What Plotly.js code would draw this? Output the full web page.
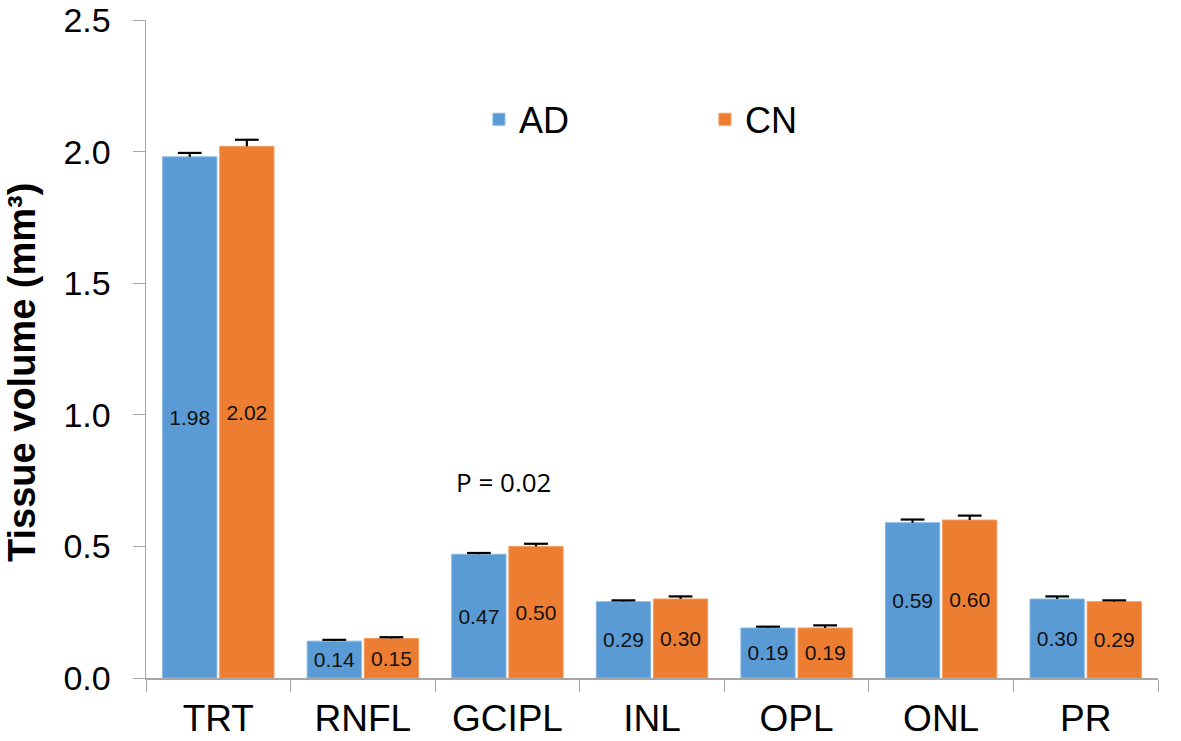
<!DOCTYPE html>
<html>
<head>
<meta charset="utf-8">
<script src="https://cdn.plot.ly/plotly-3.0.1.min.js"></script>
<style>html,body{margin:0;padding:0;background:#fff;}#chart{width:1181px;height:741px;}</style>
</head>
<body>
<div id="chart"></div>
<script>
var categories = ["TRT", "RNFL", "GCIPL", "INL", "OPL", "ONL", "PR"];
var adValues = [1.98, 0.14, 0.47, 0.29, 0.19, 0.59, 0.30];
var cnValues = [2.02, 0.15, 0.50, 0.30, 0.19, 0.60, 0.29];
var adErrors = [0.015, 0.005, 0.005, 0.005, 0.005, 0.012, 0.01];
var cnErrors = [0.025, 0.005, 0.01, 0.01, 0.01, 0.017, 0.005];
var adLabels = ["1.98", "0.14", "0.47", "0.29", "0.19", "0.59", "0.30"];
var cnLabels = ["2.02", "0.15", "0.50", "0.30", "0.19", "0.60", "0.29"];
var yTicks = [0, 0.5, 1, 1.5, 2, 2.5];
var yTitle = "Tissue volume (mm³)";

var labelFont = {family: "Liberation Sans, Arial, sans-serif", size: 21, color: "#111"};

function tops(vals, errs) { return vals.map(function (v, i) { return v + errs[i]; }); }

function errTrace(name, vals, errs) {
  return {
    type: "scatter", mode: "markers", name: name + " error", showlegend: false,
    x: categories, y: tops(vals, errs), hoverinfo: "skip",
    marker: {symbol: "line-ew", size: 17, color: "#000", line: {color: "#000", width: 2.2}},
    error_y: {type: "data", symmetric: false, array: errs.map(function () { return 0; }),
              arrayminus: errs, color: "#000", thickness: 2.2, width: 0}
  };
}

var traces = [
  {
    type: "bar", name: "AD", x: categories, y: adValues,
    marker: {color: "#5B9BD5", line: {color: "#86B6E2", width: 1}},
    text: adLabels, textposition: "inside", insidetextanchor: "middle",
    textfont: labelFont, hoverinfo: "x+y"
  },
  {
    type: "bar", name: "CN", x: categories, y: cnValues,
    marker: {color: "#ED7D31", line: {color: "#F39A5C", width: 1}},
    text: cnLabels, textposition: "inside", insidetextanchor: "middle",
    textfont: labelFont, hoverinfo: "x+y"
  },
  errTrace("AD", adValues, adErrors),
  errTrace("CN", cnValues, cnErrors)
];

var layout = {
  width: 1181, height: 741,
  margin: {l: 146, r: 23, t: 20, b: 63},
  paper_bgcolor: "#fff", plot_bgcolor: "#fff",
  font: {family: "Liberation Sans, Arial, sans-serif", color: "#000"},
  barmode: "group", bargap: 0.21, bargroupgap: 0.05,
  scattermode: "group", scattergap: 0.21,
  showlegend: true,
  legend: {
    orientation: "h", x: 0.329, y: 0.849, xanchor: "left", yanchor: "middle",
    font: {size: 36, color: "#000"}, entrywidth: 181, entrywidthmode: "pixels",
    bgcolor: "rgba(0,0,0,0)", traceorder: "normal"
  },
  xaxis: {
    type: "category", showline: true, linecolor: "#A6A6A6", linewidth: 1.5,
    ticks: "outside", tickson: "boundaries", ticklen: 12, tickcolor: "#A6A6A6",
    ticklabelstandoff: 7,
    tickfont: {size: 37, color: "#000"}, showgrid: false, zeroline: false
  },
  yaxis: {
    range: [0, 2.5], tickvals: yTicks, tickformat: ".1f",
    ticklabeloverflow: "allow",
    showline: true, linecolor: "#A6A6A6", linewidth: 1.5,
    ticks: "outside", ticklen: 12, tickcolor: "#A6A6A6", ticklabelstandoff: 15,
    tickfont: {size: 34, color: "#000"}, showgrid: false, zeroline: false
  },
  annotations: [
    {x: "GCIPL", y: 0.745, xref: "x", yref: "y", text: "P = 0.02", showarrow: false,
     font: {family: "Open Sans, Noto Sans, sans-serif", size: 26, color: "#000"}, xshift: -4},
    {x: 0, y: 0.5, xref: "paper", yref: "paper", text: "<b>" + yTitle + "</b>", showarrow: false,
     textangle: -90, xanchor: "center", yanchor: "middle", xshift: -124, yshift: -24,
     font: {size: 38, color: "#000"}}
  ]
};

Plotly.newPlot("chart", traces, layout, {displayModeBar: false, staticPlot: true});
</script>
</body>
</html>
